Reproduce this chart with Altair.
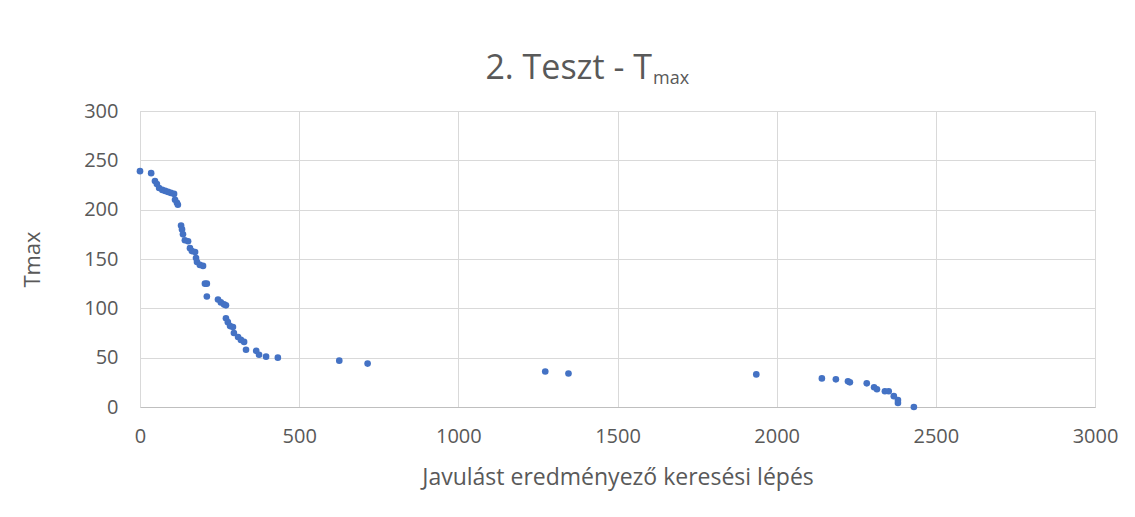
import altair as alt
import pandas as pd

steps = [0, 35, 47, 53, 60, 70, 79, 88, 97, 107, 110, 116, 119, 129, 132, 135, 141, 151, 157, 163,
         173, 176, 179, 188, 198, 204, 210, 210, 245, 254, 264, 270, 270, 276, 283, 292, 295, 308,
         317, 327, 333, 365, 374, 396, 433, 626, 715, 1273, 1346, 1936, 2142, 2186, 2224, 2230,
         2283, 2306, 2315, 2340, 2352, 2368, 2381, 2381, 2431]
tmax = [239, 237, 229, 226, 222, 220, 219, 218, 217, 216, 210, 207, 205, 184, 180, 175, 169, 168,
        161, 158, 157, 151, 147, 144, 143, 125, 125, 112, 109, 106, 104, 103, 90, 86, 82, 81, 75,
        71, 68, 66, 58, 57, 53, 51, 50, 47, 44, 36, 34, 33, 29, 28, 26, 25, 24, 20, 18, 16, 16,
        11, 7, 4, 0]

x_ticks = [0, 500, 1000, 1500, 2000, 2500, 3000]
y_ticks = [0, 50, 100, 150, 200, 250, 300]

df = pd.DataFrame({"step": steps, "tmax": tmax})
one = pd.DataFrame({"k": [0]})

FONT = "Open Sans"
GREY = "#595959"

points = alt.Chart(df).mark_circle(size=44, color="#4472C4", opacity=1).encode(
    x=alt.X("step:Q", scale=alt.Scale(domain=[0, 3000], nice=False),
            axis=alt.Axis(values=x_ticks, format="d", title="Javulást eredményező keresési lépés",
                          grid=True, gridColor="#D9D9D9", domainColor="#BFBFBF",
                          ticks=False, labelPadding=19, labelFontSize=20, labelColor=GREY,
                          labelFlush=False,
                          labelFont=FONT, titleFont=FONT, titleFontSize=23,
                          titleFontWeight="normal", titleColor=GREY, titlePadding=20)),
    y=alt.Y("tmax:Q", scale=alt.Scale(domain=[0, 300], nice=False),
            axis=alt.Axis(values=y_ticks, format="d", title="Tmax", grid=True, gridColor="#D9D9D9",
                          domainColor="#D9D9D9", ticks=False, labelPadding=22,
                          labelFontSize=20, labelColor=GREY, labelFont=FONT, labelFlush=False,
                          titleFont=FONT, titleFontSize=22, titleFontWeight="normal",
                          titleColor=GREY, titlePadding=39)),
)

title_main = alt.Chart(one).mark_text(
    font=FONT, fontSize=34, color=GREY, align="right", baseline="alphabetic", fontWeight="normal"
).encode(x=alt.value(512), y=alt.value(-32), text=alt.value("2. Teszt - T"))

title_sub = alt.Chart(one).mark_text(
    font=FONT, fontSize=18, color=GREY, align="left", baseline="alphabetic", fontWeight="normal"
).encode(x=alt.value(513), y=alt.value(-27), text=alt.value("max"))

chart = alt.layer(points, title_main, title_sub).properties(
    width=955, height=296,
    autosize=alt.AutoSizeParams(type="none"),
    padding={"left": 132, "top": 103, "right": 32, "bottom": 100},
).configure_view(stroke=None).configure(background="white")

chart.save("out.html", embed_options={"renderer": "svg", "actions": False})
